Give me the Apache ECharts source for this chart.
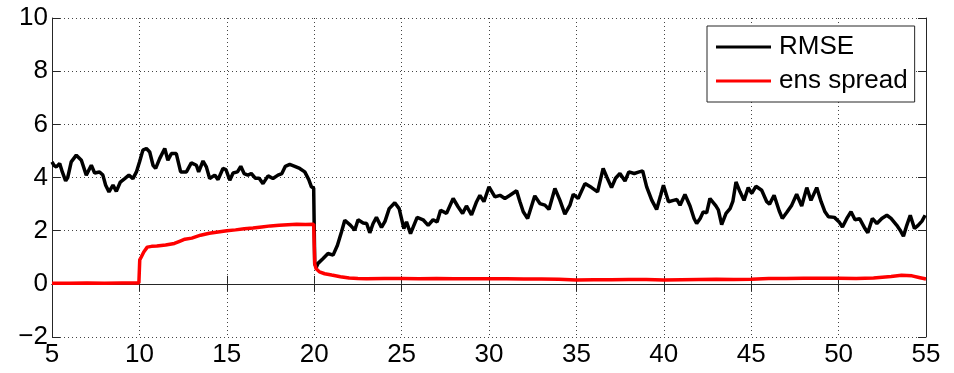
<!DOCTYPE html>
<html>
<head>
<meta charset="utf-8">
<script src="https://cdn.jsdelivr.net/npm/echarts@6/dist/echarts.min.js"></script>
<style>
  html, body { margin: 0; padding: 0; background: #fff; }
  #chart { width: 954px; height: 373px; }
</style>
</head>
<body>
<div id="chart"></div>
<script>
// Time axis and value ranges
const xTicks = [5, 10, 15, 20, 25, 30, 35, 40, 45, 50, 55];
const yTicks = [-2, 0, 2, 4, 6, 8, 10];

// RMSE of the analysis: [time, value]
const rmseTime = [
  5.0, 5.12, 5.25, 5.44, 5.59, 5.78, 5.9, 6.1, 6.39, 6.68, 6.96, 7.25, 7.44, 7.72, 7.91,
  8.07, 8.26, 8.49, 8.68, 8.91, 9.16, 9.4, 9.63, 9.83, 10.01, 10.2, 10.4, 10.59, 10.78, 10.93,
  11.16, 11.45, 11.63, 11.83, 12.11, 12.36, 12.69, 12.97, 13.26, 13.39, 13.64, 13.83, 14.02, 14.31, 14.5,
  14.78, 14.95, 15.17, 15.36, 15.61, 15.8, 15.99, 16.21, 16.4, 16.64, 16.85, 17.07, 17.36, 17.64, 17.93,
  18.15, 18.35, 18.6, 18.89, 19.17, 19.46, 19.69, 19.84, 19.97, 20.03, 20.12, 20.22, 20.51, 20.79, 21.08,
  21.33, 21.56, 21.75, 21.85, 22.08, 22.32, 22.51, 22.8, 23.0, 23.18, 23.37, 23.56, 23.85, 24.05, 24.29,
  24.61, 24.86, 25.13, 25.28, 25.51, 25.89, 26.23, 26.52, 26.8, 27.03, 27.23, 27.57, 27.95, 28.23, 28.49,
  28.71, 29.0, 29.29, 29.48, 29.71, 30.0, 30.34, 30.63, 30.91, 31.2, 31.58, 31.77, 31.96, 32.21, 32.62,
  32.91, 33.2, 33.43, 33.77, 34.06, 34.34, 34.63, 34.82, 35.1, 35.49, 35.87, 36.21, 36.53, 36.75, 37.01,
  37.24, 37.49, 37.78, 38.0, 38.31, 38.55, 38.79, 39.02, 39.31, 39.59, 39.82, 39.98, 40.27, 40.55, 40.75,
  40.93, 41.21, 41.5, 41.73, 41.88, 42.08, 42.26, 42.45, 42.64, 42.98, 43.12, 43.31, 43.56, 43.79, 43.95,
  44.13, 44.36, 44.59, 44.83, 45.03, 45.27, 45.6, 45.89, 46.05, 46.31, 46.6, 46.78, 47.05, 47.32, 47.6,
  47.89, 48.18, 48.42, 48.75, 49.0, 49.22, 49.42, 49.76, 50.03, 50.22, 50.47, 50.71, 50.94, 51.2, 51.51,
  51.67, 51.93, 52.19, 52.47, 52.76, 53.0, 53.33, 53.52, 53.71, 53.9, 54.1, 54.34, 54.55, 54.77, 54.95
];
const rmseValue = [
  4.59, 4.45, 4.40, 4.53, 4.21, 3.87, 4.00, 4.59, 4.84, 4.65, 4.09, 4.46, 4.17, 4.21, 4.09,
  3.71, 3.46, 3.71, 3.48, 3.83, 3.96, 4.09, 3.96, 4.21, 4.59, 5.03, 5.09, 4.96, 4.46, 4.34,
  4.71, 5.09, 4.65, 4.90, 4.90, 4.21, 4.21, 4.55, 4.46, 4.21, 4.62, 4.40, 3.96, 4.09, 3.92,
  4.34, 4.30, 3.90, 4.17, 4.21, 4.42, 4.15, 4.09, 4.15, 3.97, 3.97, 3.77, 4.06, 3.96, 4.09,
  4.15, 4.42, 4.49, 4.42, 4.34, 4.21, 3.92, 3.65, 3.60, 0.75, 0.62, 0.77, 0.95, 1.14, 1.08,
  1.45, 1.95, 2.39, 2.39, 2.20, 2.02, 2.41, 2.29, 2.27, 1.92, 2.27, 2.50, 2.12, 2.35, 2.83,
  3.05, 2.83, 2.08, 2.33, 1.89, 2.50, 2.41, 2.20, 2.41, 2.33, 2.77, 2.65, 3.21, 2.90, 2.65,
  2.93, 2.59, 3.09, 3.33, 3.09, 3.65, 3.27, 3.33, 3.21, 3.33, 3.50, 3.09, 2.71, 2.46, 3.31,
  3.02, 2.96, 2.80, 3.59, 3.14, 2.62, 2.96, 3.37, 3.21, 3.77, 3.62, 3.46, 4.34, 4.00, 3.62,
  3.97, 4.15, 3.87, 4.21, 4.15, 4.20, 4.25, 3.65, 3.15, 2.80, 3.33, 3.71, 3.09, 3.14, 3.17,
  2.96, 3.36, 2.93, 2.46, 2.27, 2.46, 2.71, 2.67, 3.21, 2.93, 2.78, 2.23, 2.65, 2.83, 3.10,
  3.83, 3.46, 3.14, 3.62, 3.40, 3.67, 3.52, 3.09, 3.00, 3.33, 2.75, 2.46, 2.70, 2.96, 3.37,
  2.93, 3.62, 3.14, 3.62, 3.09, 2.71, 2.52, 2.50, 2.33, 2.14, 2.46, 2.71, 2.41, 2.45, 2.08,
  1.92, 2.46, 2.27, 2.46, 2.58, 2.46, 2.20, 2.02, 1.79, 2.20, 2.58, 2.08, 2.20, 2.36, 2.58
];

// Ensemble spread: [time, value]
const spreadTime = [
  5, 6, 7, 8, 9, 9.97, 10.02, 10.1, 10.25, 10.45, 10.7, 11, 11.5, 12, 12.3, 12.6, 13, 13.5, 14,
  14.5, 15, 15.5, 16, 16.5, 17, 17.5, 18, 18.5, 19, 19.5, 19.97, 20.03, 20.1, 20.3, 20.6, 21,
  21.5, 22, 22.5, 23, 24, 25, 26, 27, 28, 29, 30, 31, 32, 33, 34, 35, 36, 37, 38, 39, 40, 41,
  42, 43, 44, 45, 46, 47, 48, 49, 50, 51, 52, 53, 53.6, 54.2, 54.6, 55
];
const spreadValue = [
  0.02, 0.02, 0.03, 0.02, 0.03, 0.03, 0.90, 1.00, 1.20, 1.38, 1.41, 1.42, 1.46, 1.52, 1.60, 1.68, 1.72, 1.83, 1.90,
  1.95, 2.00, 2.03, 2.07, 2.10, 2.14, 2.18, 2.20, 2.22, 2.24, 2.23, 2.24, 0.75, 0.58, 0.45, 0.38, 0.33,
  0.27, 0.22, 0.20, 0.19, 0.20, 0.20, 0.19, 0.20, 0.19, 0.19, 0.19, 0.19, 0.18, 0.18, 0.17, 0.14, 0.15, 0.15, 0.16, 0.16, 0.14, 0.15,
  0.16, 0.17, 0.16, 0.17, 0.20, 0.20, 0.21, 0.21, 0.21, 0.20, 0.22, 0.28, 0.32, 0.30, 0.24, 0.18
];

const FONT = '"Liberation Sans", Arial, Helvetica, sans-serif';
const zip = (xs, ys) => xs.map((x, i) => [x, ys[i]]);
const fmtY = v => (v < 0 ? '\u2212' + Math.abs(v) : String(v));

const axisLine = { show: true, lineStyle: { color: '#262626', width: 1 } };
const tickIn = { show: true, inside: true, length: 8, lineStyle: { color: '#262626', width: 1 } };
const grid = { show: true, lineStyle: { type: [1, 3], color: '#444', width: 1 } };

const chart = echarts.init(document.getElementById('chart'), null, { renderer: 'canvas' });
chart.setOption({
  animation: false,
  backgroundColor: '#fff',
  grid: { left: 52, right: 28, top: 18, bottom: 36, containLabel: false },
  xAxis: [
    {
      type: 'value', min: xTicks[0], max: xTicks[xTicks.length - 1], interval: 5,
      position: 'bottom',
      axisLine, axisTick: tickIn, splitLine: grid,
      axisLabel: { color: '#000', fontFamily: FONT, fontSize: 26, margin: 5 }
    },
    {
      type: 'value', min: xTicks[0], max: xTicks[xTicks.length - 1], interval: 5,
      position: 'top',
      axisLine, axisTick: tickIn, splitLine: { show: false }, axisLabel: { show: false }
    }
  ],
  yAxis: [
    {
      type: 'value', min: yTicks[0], max: yTicks[yTicks.length - 1], interval: 2,
      position: 'left',
      axisLine, axisTick: tickIn, splitLine: grid,
      axisLabel: { color: '#000', fontFamily: FONT, fontSize: 26, margin: 4, formatter: fmtY }
    },
    {
      type: 'value', min: yTicks[0], max: yTicks[yTicks.length - 1], interval: 2,
      position: 'right',
      axisLine, axisTick: tickIn, splitLine: { show: false }, axisLabel: { show: false }
    }
  ],
  legend: {
    left: 707, top: 26,
    orient: 'vertical',
    backgroundColor: '#fff',
    borderColor: '#262626', borderWidth: 1, borderRadius: 0,
    padding: [8, 7, 8, 9],
    itemGap: 8,
    icon: 'rect',
    itemWidth: 55, itemHeight: 3,
    textStyle: { color: '#000', fontFamily: FONT, fontSize: 26, lineHeight: 26, padding: [0, 0, 0, 3] },
    data: ['RMSE', 'ens spread']
  },
  series: [
    {
      name: 'RMSE', type: 'line', showSymbol: false, symbol: 'none',
      data: zip(rmseTime, rmseValue),
      lineStyle: { color: '#000', width: 3.5 }, itemStyle: { color: '#000' },
      z: 3
    },
    {
      name: 'ens spread', type: 'line', showSymbol: false, symbol: 'none',
      data: zip(spreadTime, spreadValue),
      lineStyle: { color: '#ff0000', width: 3.5 }, itemStyle: { color: '#ff0000' },
      z: 4
    }
  ]
});
</script>
</body>
</html>
